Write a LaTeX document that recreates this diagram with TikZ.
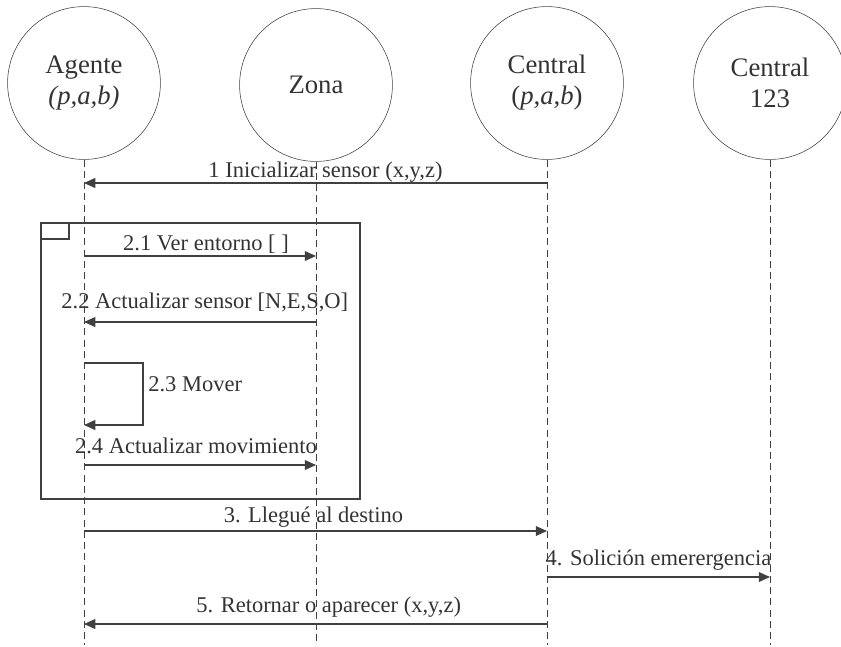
\documentclass[tikz,border=0pt]{standalone}
\usepackage{fontspec}
\setmainfont{Liberation Serif}
\usetikzlibrary{arrows.meta}
\tikzset{
  actor/.style={draw=black!75,circle,minimum size=3.82cm,inner sep=0pt,
    align=center,text=black!80,font=\fontsize{19}{22}\selectfont},
  lifeline/.style={draw=black!75,dashed,dash pattern=on 5pt off 3pt},
  msg/.style={draw=black!75,thick,-{Triangle[length=8pt,width=7pt]}},
  msglabel/.style={text=black!80,font=\fontsize{16}{18}\selectfont,
    inner sep=0pt,anchor=base},
  frame/.style={draw=black!75,thick}
}
\begin{document}
\begin{tikzpicture}[x=0.025cm,y=-0.025cm]
    \useasboundingbox (0,0) rectangle (841,646);
    % --- participants ---
    \node[actor] (agente) at (84,83) {Agente\\\textit{(p,a,b)}};
    \node[actor] (zona) at (316,85) {Zona};
    \node[actor] (central) at (547,83) {Central\\(\textit{p,a,b})};
    \node[actor] (centralb) at (770,83) {Central\\123};
    \foreach \n in {agente,zona,central,centralb}
      \draw[lifeline] (\n.south) -- (\n.south |- 0,645);
    % --- loop frame ---
    \draw[frame] (41,223) rectangle (360,499);
    \draw[frame] (41,223) rectangle (69,239);
    % --- messages ---
    \draw[msg] (central |- 0,183) -- node[msglabel,yshift=0.15cm,xshift=0.25cm]
      {1 Inicializar sensor (x,y,z)} (agente |- 0,183);
    \draw[msg] (agente |- 0,256) -- node[msglabel,yshift=0.15cm,xshift=0.15cm]
      {2.1 Ver entorno [ ]} (zona |- 0,256);
    \draw[msg] (zona |- 0,322) -- node[msglabel,yshift=0.35cm,xshift=0.12cm]
      {2.2 Actualizar sensor [N,E,S,O]} (agente |- 0,322);
    \draw[msg] (agente |- 0,363) -| (143,425)
      node[msglabel,anchor=west,pos=0.67,xshift=0.12cm] {2.3 Mover}
      -- (agente |- 0,425);
    \draw[msg] (agente |- 0,465) -- node[msglabel,yshift=0.28cm,xshift=-0.1cm]
      {2.4 Actualizar movimiento} (zona |- 0,465);
    \draw[msg] (agente |- 0,531) -- node[msglabel,yshift=0.22cm,xshift=-0.05cm]
      {3. Llegué al destino} (central |- 0,531);
    \draw[msg] (central |- 0,577) -- node[msglabel,yshift=0.28cm]
      {4. Solición emerergencia} (centralb |- 0,577);
    \draw[msg] (central |- 0,624) -- node[msglabel,yshift=0.3cm,xshift=0.33cm]
      {5. Retornar o aparecer (x,y,z)} (agente |- 0,624);
\end{tikzpicture}
\end{document}
